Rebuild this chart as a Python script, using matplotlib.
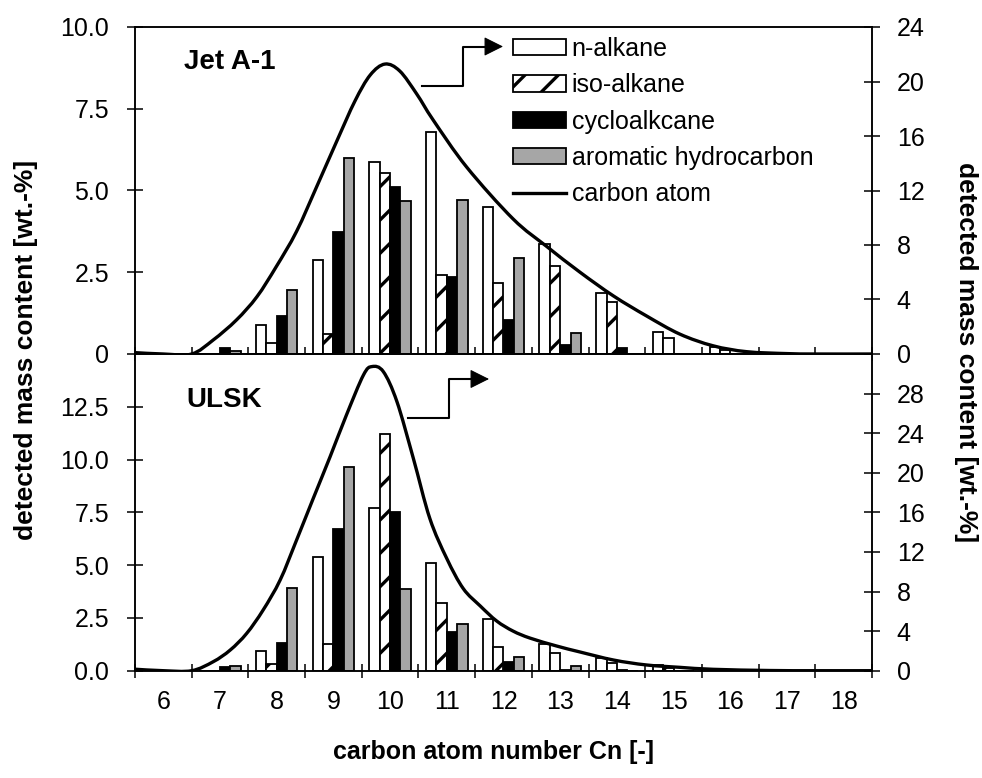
import numpy as np
import matplotlib
matplotlib.use("Agg")
import matplotlib.pyplot as plt
from matplotlib.path import Path
from matplotlib.patches import PathPatch, Patch, FancyArrowPatch
from matplotlib.lines import Line2D

plt.rcParams['font.family'] = ['Liberation Sans', 'DejaVu Sans']
plt.rcParams['font.size'] = 18
plt.rcParams['hatch.linewidth'] = 2.4

carbon_numbers = np.arange(6, 19)
x_labels = [str(c) for c in carbon_numbers]

# Jet A-1, detected mass content per class [wt.-%]
jet_n_alkane = [0, 0, 0.89, 2.87, 5.87, 6.79, 4.51, 3.37, 1.88, 0.66, 0.20, 0, 0]
jet_iso_alkane = [0, 0, 0.33, 0.60, 5.52, 2.42, 2.16, 2.69, 1.60, 0.50, 0.12, 0, 0]
jet_cycloalkane = [0, 0.17, 1.16, 3.74, 5.10, 2.34, 1.05, 0.27, 0.18, 0, 0, 0, 0]
jet_aromatic = [0, 0.10, 1.97, 5.98, 4.67, 4.70, 2.95, 0.63, 0, 0, 0, 0, 0]

# ULSK
ulsk_n_alkane = [0, 0, 0.93, 5.40, 7.70, 5.11, 2.45, 1.25, 0.62, 0.25, 0, 0, 0]
ulsk_iso_alkane = [0, 0, 0.32, 1.25, 11.22, 3.20, 1.12, 0.85, 0.38, 0.12, 0, 0, 0]
ulsk_cycloalkane = [0, 0.16, 1.31, 6.71, 7.51, 1.83, 0.41, 0.05, 0.05, 0, 0, 0, 0]
ulsk_aromatic = [0, 0.24, 3.92, 9.64, 3.87, 2.21, 0.63, 0.24, 0, 0, 0, 0, 0]

# carbon atom distribution (secondary axis)
jet_curve_x = [5.5, 6.0, 6.5, 6.88, 7.29, 7.65, 7.99, 8.35, 8.71, 9.06, 9.38, 9.65,
               9.91, 10.17, 10.47, 10.76, 11.35, 12.17, 12.76, 13.35, 13.94, 14.52,
               15.11, 15.70, 16.29, 17.0, 17.5, 18.5]
jet_curve_y = [0.1, 0.0, 0.0, 1.03, 2.5, 4.2, 6.4, 9.0, 12.33, 15.63, 18.57, 20.48,
               21.28, 20.77, 19.08, 17.17, 13.72, 9.91, 7.9, 6.0, 4.26, 2.8,
               1.46, 0.6, 0.17, 0.03, 0.0, 0.0]
ulsk_curve_x = [5.5, 6.0, 6.5, 6.88, 7.18, 7.47, 7.76, 8.06, 8.35, 8.64, 8.94, 9.23,
                9.53, 9.68, 9.88, 10.12, 10.41, 10.70, 11.0, 11.29, 11.59, 11.88,
                12.17, 12.47, 12.94, 13.35, 13.94, 14.52, 15.11, 15.70, 16.7, 17.5, 18.5]
ulsk_curve_y = [0.15, 0.0, 0.0, 0.91, 2.09, 3.77, 6.13, 9.16, 13.2, 17.35, 21.6, 25.84,
                29.88, 30.73, 30.22, 27.19, 21.45, 15.39, 11.33, 8.3, 6.54, 5.02,
                4.0, 3.29, 2.49, 1.89, 1.08, 0.58, 0.34, 0.14, 0.02, 0.0, 0.0]

GRAY = '#a6a6a6'
BAR_W = 0.183
OFFSETS = [-1.5 * BAR_W, -0.5 * BAR_W, 0.5 * BAR_W, 1.5 * BAR_W]
STYLES = [dict(color='white', hatch=None),
          dict(color='white', hatch='/'),
          dict(color='black', hatch=None),
          dict(color=GRAY, hatch=None)]
LABELS = ['n-alkane', 'iso-alkane', 'cycloalkcane', 'aromatic hydrocarbon']


def smooth_path(x, y):
    # Catmull-Rom spline converted to cubic Bezier segments
    x = np.asarray(x, float)
    y = np.asarray(y, float)
    n = len(x)
    verts = [(x[0], y[0])]
    codes = [Path.MOVETO]
    for i in range(n - 1):
        j0 = max(i - 1, 0)
        j3 = min(i + 2, n - 1)
        c1 = (x[i] + (x[i + 1] - x[j0]) / 6, y[i] + (y[i + 1] - y[j0]) / 6)
        c2 = (x[i + 1] - (x[j3] - x[i]) / 6, y[i + 1] - (y[j3] - y[i]) / 6)
        verts += [c1, c2, (x[i + 1], y[i + 1])]
        codes += [Path.CURVE4] * 3
    return Path(verts, codes)


def draw_panel(ax, series, curve_x, curve_y, ymax, yticks, ylabels, y2max, y2ticks, y2labels):
    for vals, off, st in zip(series, OFFSETS, STYLES):
        ax.bar(carbon_numbers + off, vals, width=BAR_W, color=st['color'],
               edgecolor='black', linewidth=1.3, hatch=st['hatch'], zorder=2)
    ax.set_xlim(5.5, 18.5)
    ax.set_ylim(0, ymax)
    ax.set_yticks(yticks)
    ax.set_yticklabels(ylabels)
    ax.set_xticks(carbon_numbers)
    ax.set_xticks(np.arange(5.5, 18.6, 1), minor=True)
    ax.tick_params(axis='x', which='major', length=0, pad=14)
    ax.tick_params(axis='x', which='minor', direction='inout', length=10, width=1.1)
    ax.tick_params(axis='y', direction='inout', length=11.5, width=1.1, pad=13)

    ax2 = ax.twinx()
    ax2.set_ylim(0, y2max)
    ax2.set_yticks(y2ticks)
    ax2.set_yticklabels(y2labels)
    ax2.tick_params(axis='y', direction='inout', length=11.5, width=1.1, pad=12)
    ax2.add_patch(PathPatch(smooth_path(curve_x, curve_y), fill=False,
                            edgecolor='black', linewidth=2.4, capstyle='round'))
    for a in (ax, ax2):
        for s in a.spines.values():
            s.set_linewidth(1.1)
    return ax2


fig = plt.figure(figsize=(9.82, 7.78), dpi=100)
W, H = 982, 778
left, right = 135 / W, 872 / W
ax_top = fig.add_axes([left, 1 - 354 / H, right - left, (354 - 27) / H])
ax_bot = fig.add_axes([left, 1 - 670.7 / H, right - left, (670.7 - 354) / H])

draw_panel(ax_top, [jet_n_alkane, jet_iso_alkane, jet_cycloalkane, jet_aromatic],
           jet_curve_x, jet_curve_y,
           10, [0, 2.5, 5, 7.5, 10], ['0', '2.5', '5.0', '7.5', '10.0'],
           24, np.arange(0, 25, 4), [str(v) for v in range(0, 25, 4)])
ax_top.tick_params(axis='x', which='major', labelbottom=False)

draw_panel(ax_bot, [ulsk_n_alkane, ulsk_iso_alkane, ulsk_cycloalkane, ulsk_aromatic],
           ulsk_curve_x, ulsk_curve_y,
           15, np.arange(0, 12.6, 2.5), ['0.0', '2.5', '5.0', '7.5', '10.0', '12.5'],
           32, np.arange(0, 29, 4), [str(v) for v in range(0, 29, 4)])
ax_bot.set_xticklabels(x_labels)

fig.text(184 / W, 1 - 62 / H, 'Jet A-1', fontsize=20, fontweight='bold',
         ha='left', va='center')
fig.text(186 / W, 1 - 400 / H, 'ULSK', fontsize=20, fontweight='bold',
         ha='left', va='center')

# elbow arrows pointing to the secondary axis
for (x0, y0, xm, ytop, xtip) in [(422, 86, 463, 46.5, 503), (408, 418, 449, 379, 489)]:
    fig.add_artist(Line2D([x0 / W, xm / W, xm / W, (xtip - 10) / W],
                          [1 - y0 / H, 1 - y0 / H, 1 - ytop / H, 1 - ytop / H],
                          transform=fig.transFigure, color='black', linewidth=1.5))
    fig.add_artist(FancyArrowPatch(
        ((xtip - 16) / W, 1 - ytop / H), (xtip / W, 1 - ytop / H),
        transform=fig.transFigure, arrowstyle='-|>,head_length=1.0,head_width=0.5',
        mutation_scale=12, color='black', linewidth=0.8, shrinkA=0, shrinkB=0))

handles = [Patch(facecolor=st['color'], edgecolor='black', hatch=st['hatch'], linewidth=1.3)
           for st in STYLES]
handles.append(Line2D([0], [0], color='black', linewidth=2.4))
fig.legend(handles, LABELS + ['carbon atom'], loc='upper left',
           bbox_to_anchor=(513 / W, 1 - 37 / H), frameon=False, borderpad=0,
           borderaxespad=0, handlelength=2.1, handleheight=0.62, handletextpad=0.25,
           labelspacing=0.49, fontsize=18)

fig.text(26 / W, 1 - 350 / H, 'detected mass content [wt.-%]', rotation=90,
         fontsize=19, fontweight='bold', ha='center', va='center')
fig.text(966 / W, 1 - 352 / H, 'detected mass content [wt.-%]', rotation=270,
         fontsize=19, fontweight='bold', ha='center', va='center')
fig.text(493 / W, 1 - 752 / H, 'carbon atom number Cn [-]',
         fontsize=18, fontweight='bold', ha='center', va='center')

fig.savefig('out.png', dpi=100)
